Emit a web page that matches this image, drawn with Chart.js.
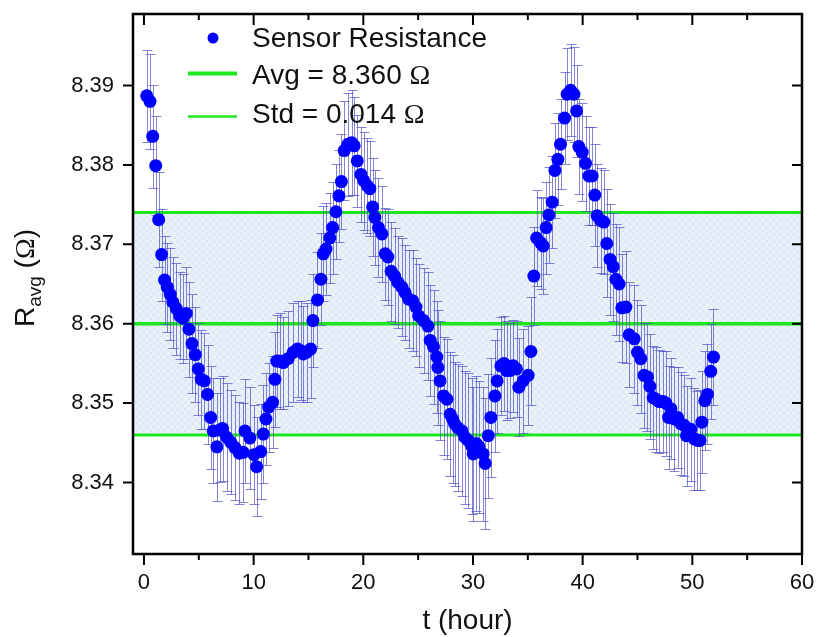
<!DOCTYPE html>
<html>
<head>
<meta charset="utf-8">
<script src="https://cdn.jsdelivr.net/npm/chart.js@4"></script>
<style>
  body { margin:0; background:#fff; }
  canvas { display:block; }
</style>
</head>
<body>
<canvas id="c" width="817" height="637"></canvas>
<script>
// time (hour)
const tHour = [
  0.25,0.55,0.80,1.07,1.34,1.61,1.88,2.13,2.40,2.64,
  2.95,3.25,3.55,3.86,4.10,4.38,4.68,4.95,5.22,5.50,
  5.80,6.08,6.32,6.65,6.90,7.17,7.54,7.90,8.30,8.69,
  9.05,9.21,9.66,10.03,10.27,10.64,10.88,11.12,11.37,11.73,
  11.94,12.10,12.40,12.70,13.15,13.61,14.00,14.30,14.52,14.82,
  15.20,15.40,15.82,16.14,16.35,16.60,16.95,17.20,17.50,17.78,
  18.00,18.26,18.60,18.93,19.17,19.45,19.78,20.05,20.35,20.60,
  20.85,21.05,21.38,21.70,22.00,22.24,22.54,22.85,23.15,23.52,
  23.82,24.13,24.49,24.80,25.04,25.50,25.89,26.10,26.40,26.71,
  26.80,27.00,27.32,27.62,27.92,28.14,28.32,28.62,28.99,29.26,
  29.56,29.87,30.02,30.30,30.55,30.93,31.11,31.39,31.63,32.00,
  32.20,32.54,32.82,33.06,33.36,33.66,33.97,34.18,34.57,35.03,
  35.28,35.55,35.80,36.16,36.40,36.67,36.92,37.22,37.47,37.74,
  37.98,38.35,38.59,38.90,39.20,39.45,39.65,39.96,40.26,40.57,
  40.87,41.11,41.32,41.63,41.93,42.20,42.50,42.78,43.03,43.33,
  43.57,43.94,44.24,44.70,45.00,45.30,45.60,45.91,46.13,46.43,
  46.67,46.98,47.34,47.58,47.83,48.04,48.35,48.65,48.95,49.26,
  49.47,49.86,50.17,50.47,50.70,50.87,51.14,51.38,51.68,51.93
]
// R avg (ohm)
const rAvg = [
  8.3887,8.3880,8.3836,8.3799,8.3731,8.3687,8.3655,8.3646,8.3637,8.3627,
  8.3619,8.3610,8.3607,8.3613,8.3593,8.3575,8.3561,8.3543,8.3530,8.3528,
  8.3511,8.3482,8.3465,8.3445,8.3466,8.3468,8.3457,8.3451,8.3444,8.3437,
  8.3438,8.3465,8.3456,8.3435,8.3420,8.3439,8.3461,8.3480,8.3495,8.3501,
  8.3530,8.3553,8.3553,8.3551,8.3556,8.3564,8.3568,8.3566,8.3562,8.3564,
  8.3568,8.3604,8.3630,8.3656,8.3688,8.3694,8.3708,8.3721,8.3741,8.3761,
  8.3779,8.3818,8.3826,8.3828,8.3824,8.3805,8.3788,8.3780,8.3774,8.3770,
  8.3747,8.3734,8.3721,8.3713,8.3688,8.3684,8.3666,8.3660,8.3652,8.3646,
  8.3639,8.3631,8.3629,8.3621,8.3610,8.3604,8.3597,8.3579,8.3571,8.3558,
  8.3545,8.3528,8.3509,8.3505,8.3486,8.3480,8.3474,8.3469,8.3465,8.3457,
  8.3453,8.3446,8.3436,8.3449,8.3445,8.3436,8.3424,8.3459,8.3482,8.3509,
  8.3528,8.3547,8.3550,8.3541,8.3541,8.3547,8.3543,8.3520,8.3528,8.3535,
  8.3565,8.3660,8.3708,8.3702,8.3698,8.3721,8.3737,8.3753,8.3793,8.3807,
  8.3826,8.3859,8.3889,8.3894,8.3889,8.3868,8.3823,8.3816,8.3802,8.3786,
  8.3786,8.3762,8.3736,8.3730,8.3728,8.3701,8.3681,8.3672,8.3656,8.3650,
  8.3620,8.3621,8.3586,8.3581,8.3564,8.3556,8.3535,8.3533,8.3521,8.3507,
  8.3505,8.3502,8.3502,8.3500,8.3482,8.3493,8.3480,8.3482,8.3474,8.3472,
  8.3459,8.3467,8.3455,8.3453,8.3453,8.3476,8.3503,8.3511,8.3540,8.3558
]
// error bar half length (ohm)
const rErr = [
  0.0058,0.0060,0.0065,0.0062,0.0060,0.0058,0.0055,0.0056,0.0058,0.0057,
  0.0058,0.0055,0.0056,0.0058,0.0060,0.0062,0.0060,0.0058,0.0062,0.0060,
  0.0062,0.0065,0.0066,0.0068,0.0065,0.0066,0.0068,0.0065,0.0066,0.0064,
  0.0062,0.0065,0.0064,0.0062,0.0062,0.0060,0.0062,0.0058,0.0056,0.0058,
  0.0060,0.0058,0.0060,0.0058,0.0060,0.0062,0.0060,0.0062,0.0060,0.0062,
  0.0062,0.0058,0.0060,0.0058,0.0060,0.0058,0.0057,0.0058,0.0060,0.0058,
  0.0060,0.0062,0.0065,0.0066,0.0062,0.0058,0.0060,0.0062,0.0060,0.0060,
  0.0062,0.0060,0.0062,0.0060,0.0058,0.0060,0.0062,0.0060,0.0058,0.0062,
  0.0060,0.0062,0.0064,0.0062,0.0065,0.0066,0.0068,0.0070,0.0072,0.0070,
  0.0072,0.0075,0.0074,0.0076,0.0078,0.0080,0.0078,0.0080,0.0082,0.0084,
  0.0085,0.0086,0.0084,0.0085,0.0083,0.0084,0.0082,0.0078,0.0075,0.0070,
  0.0065,0.0062,0.0060,0.0062,0.0060,0.0058,0.0060,0.0062,0.0065,0.0062,
  0.0068,0.0062,0.0060,0.0058,0.0060,0.0058,0.0060,0.0058,0.0060,0.0058,
  0.0057,0.0058,0.0058,0.0058,0.0060,0.0058,0.0060,0.0062,0.0060,0.0062,
  0.0062,0.0064,0.0065,0.0066,0.0066,0.0068,0.0070,0.0068,0.0070,0.0072,
  0.0068,0.0070,0.0066,0.0068,0.0066,0.0068,0.0066,0.0068,0.0066,0.0065,
  0.0066,0.0065,0.0064,0.0066,0.0065,0.0064,0.0065,0.0064,0.0065,0.0064,
  0.0063,0.0065,0.0064,0.0062,0.0063,0.0064,0.0062,0.0063,0.0060,0.0060
]
const AVG = 8.360
const STD = 0.014
const xMin = -1, xMax = 60
const yMin = 8.331, yMax = 8.399

const green = "#1ee61e"
const sans = "'Liberation Sans', Arial, sans-serif"
const serif = "'Liberation Serif', 'Times New Roman', serif"

// hatch for the +-std band
let pc = document.createElement("canvas")
pc.width = 7; pc.height = 7
let pctx = pc.getContext("2d")
pctx.fillStyle = "#eaf1f9"
pctx.fillRect(0,0,7,7)
pctx.strokeStyle = "rgba(175,200,228,0.35)"
pctx.lineWidth = 0.8
pctx.beginPath()
pctx.moveTo(0,0); pctx.lineTo(7,7)
pctx.moveTo(7,0); pctx.lineTo(0,7)
pctx.stroke()
const hatch = pctx.createPattern(pc, "repeat")

let points = tHour.map((t,i)=>({x:t, y:rAvg[i]}))
let hLine = (v)=>[{x:xMin, y:v},{x:xMax, y:v}]

function drawOmega(ctx, text, x, y, size){
  // text in sans, then Ω in serif
  ctx.font = size+"px "+sans
  ctx.fillText(text, x, y)
  let w = ctx.measureText(text).width
  ctx.font = size+"px "+serif
  ctx.fillText("\u03A9", x+w, y)
  return w + ctx.measureText("\u03A9").width
}

const decor = {
  id: "decor",
  beforeDatasetDraw(chart, args){
    if (args.index !== 0) return
    let ctx = chart.ctx, xs = chart.scales.x, ys = chart.scales.y, a = chart.chartArea
    ctx.save()
    ctx.beginPath(); ctx.rect(a.left, a.top, a.right-a.left, a.bottom-a.top); ctx.clip()
    ctx.strokeStyle = "rgba(80,80,195,0.7)"
    ctx.lineWidth = 1
    ctx.beginPath()
    for (let i=0;i<tHour.length;i++){
      let px = Math.round(xs.getPixelForValue(tHour[i]))+0.5
      let y1 = Math.round(ys.getPixelForValue(rAvg[i]+rErr[i]))+0.5
      let y2 = Math.round(ys.getPixelForValue(rAvg[i]-rErr[i]))+0.5
      ctx.moveTo(px,y1); ctx.lineTo(px,y2)
      ctx.moveTo(px-5,y1); ctx.lineTo(px+5,y1)
      ctx.moveTo(px-5,y2); ctx.lineTo(px+5,y2)
    }
    ctx.stroke()
    ctx.restore()
  },
  afterDraw(chart){
    let ctx = chart.ctx, xs = chart.scales.x, ys = chart.scales.y, a = chart.chartArea
    ctx.save()
    // frame
    ctx.strokeStyle = "#000"
    ctx.lineWidth = 2.5
    ctx.strokeRect(a.left, a.top, a.right-a.left, a.bottom-a.top)
    // x ticks (major + minor), bottom outward, top inward
    ctx.lineWidth = 2
    ctx.beginPath()
    for (let v=0; v<=xMax; v+=5){
      let px = xs.getPixelForValue(v)
      let len = (v%10===0) ? 11 : 6
      ctx.moveTo(px, a.bottom); ctx.lineTo(px, a.bottom+len)
      ctx.moveTo(px, a.top); ctx.lineTo(px, a.top+len)
    }
    // y ticks, left outward, right inward
    ys.ticks.forEach(tk=>{
      let py = ys.getPixelForValue(tk.value)
      ctx.moveTo(a.left-10, py); ctx.lineTo(a.left, py)
      ctx.moveTo(a.right-10, py); ctx.lineTo(a.right, py)
    })
    ctx.stroke()

    ctx.fillStyle = "#111"
    // x title
    ctx.font = "28px "+sans
    ctx.textAlign = "center"
    ctx.textBaseline = "alphabetic"
    ctx.fillText("t (hour)", (a.left+a.right)/2, 629)

    // y title with subscript
    ctx.save()
    ctx.translate(34, (a.top+a.bottom)/2 - 6)
    ctx.rotate(-Math.PI/2)
    ctx.textAlign = "left"
    ctx.font = "28px "+sans
    let wR = ctx.measureText("R").width
    ctx.font = "19px "+sans
    let wSub = ctx.measureText("avg").width
    ctx.font = "28px "+sans
    let wP = ctx.measureText(" (").width
    ctx.font = "28px "+serif
    let wO = ctx.measureText("\u03A9").width
    ctx.font = "28px "+sans
    let wC = ctx.measureText(")").width
    let x0 = -(wR+wSub+wP+wO+wC)/2
    ctx.fillText("R", x0, 0)
    ctx.font = "19px "+sans
    ctx.fillText("avg", x0+wR, 7)
    ctx.font = "28px "+sans
    ctx.fillText(" (", x0+wR+wSub, 0)
    ctx.font = "28px "+serif
    ctx.fillText("\u03A9", x0+wR+wSub+wP, 0)
    ctx.font = "28px "+sans
    ctx.fillText(")", x0+wR+wSub+wP+wO, 0)
    ctx.restore()

    // legend
    ctx.textAlign = "left"
    ctx.fillStyle = "#0000ff"
    ctx.beginPath(); ctx.arc(213, 38, 5.5, 0, Math.PI*2); ctx.fill()
    ctx.strokeStyle = green
    ctx.lineWidth = 4
    ctx.beginPath(); ctx.moveTo(188, 73.5); ctx.lineTo(237, 73.5); ctx.stroke()
    ctx.lineWidth = 2.5
    ctx.beginPath(); ctx.moveTo(188, 116.5); ctx.lineTo(237, 116.5); ctx.stroke()
    ctx.fillStyle = "#111"
    ctx.font = "28px "+sans
    ctx.fillText("Sensor Resistance", 252, 47)
    drawOmega(ctx, "Avg = "+AVG.toFixed(3)+" ", 252, 84, 28)
    drawOmega(ctx, "Std = "+STD.toFixed(3)+" ", 252, 123, 28)
    ctx.restore()
  }
}

new Chart(document.getElementById("c"), {
  type: "scatter",
  data: {
    datasets: [
      {
        label: "Sensor Resistance",
        data: points,
        backgroundColor: "#0000ff",
        borderWidth: 0,
        pointRadius: 6.5,
        pointHoverRadius: 6.5
      },
      {
        label: "Avg",
        data: hLine(AVG),
        showLine: true,
        borderColor: green,
        borderWidth: 3.5,
        pointRadius: 0,
        fill: false
      },
      {
        label: "Std+",
        data: hLine(AVG+STD),
        showLine: true,
        borderColor: green,
        borderWidth: 3,
        pointRadius: 0,
        fill: false
      },
      {
        label: "Std-",
        data: hLine(AVG-STD),
        showLine: true,
        borderColor: green,
        borderWidth: 3,
        pointRadius: 0,
        backgroundColor: hatch,
        fill: "-1"
      }
    ]
  },
  options: {
    responsive: false,
    animation: false,
    devicePixelRatio: 1,
    layout: { padding: { top: 14, right: 15, left: 0, bottom: 0 } },
    plugins: { legend: { display: false }, tooltip: { enabled: false } },
    scales: {
      x: {
        type: "linear",
        min: xMin, max: xMax,
        afterFit: (s)=>{ s.height = 83; s.paddingLeft = 0; s.paddingRight = 0 },
        grid: { display: false, drawTicks: false },
        border: { display: false },
        ticks: {
          stepSize: 10,
          includeBounds: false,
          padding: 16,
          color: "#111",
          font: { family: sans, size: 22 }
        }
      },
      y: {
        min: yMin, max: yMax,
        afterFit: (s)=>{ s.width = 133; s.paddingTop = 0; s.paddingBottom = 0 },
        grid: { display: false, drawTicks: false },
        border: { display: false },
        ticks: {
          stepSize: 0.01,
          includeBounds: false,
          padding: 19,
          color: "#111",
          font: { family: sans, size: 22 },
          callback: (v)=> v.toFixed(2)
        }
      }
    }
  },
  plugins: [decor]
})
</script>
</body>
</html>
